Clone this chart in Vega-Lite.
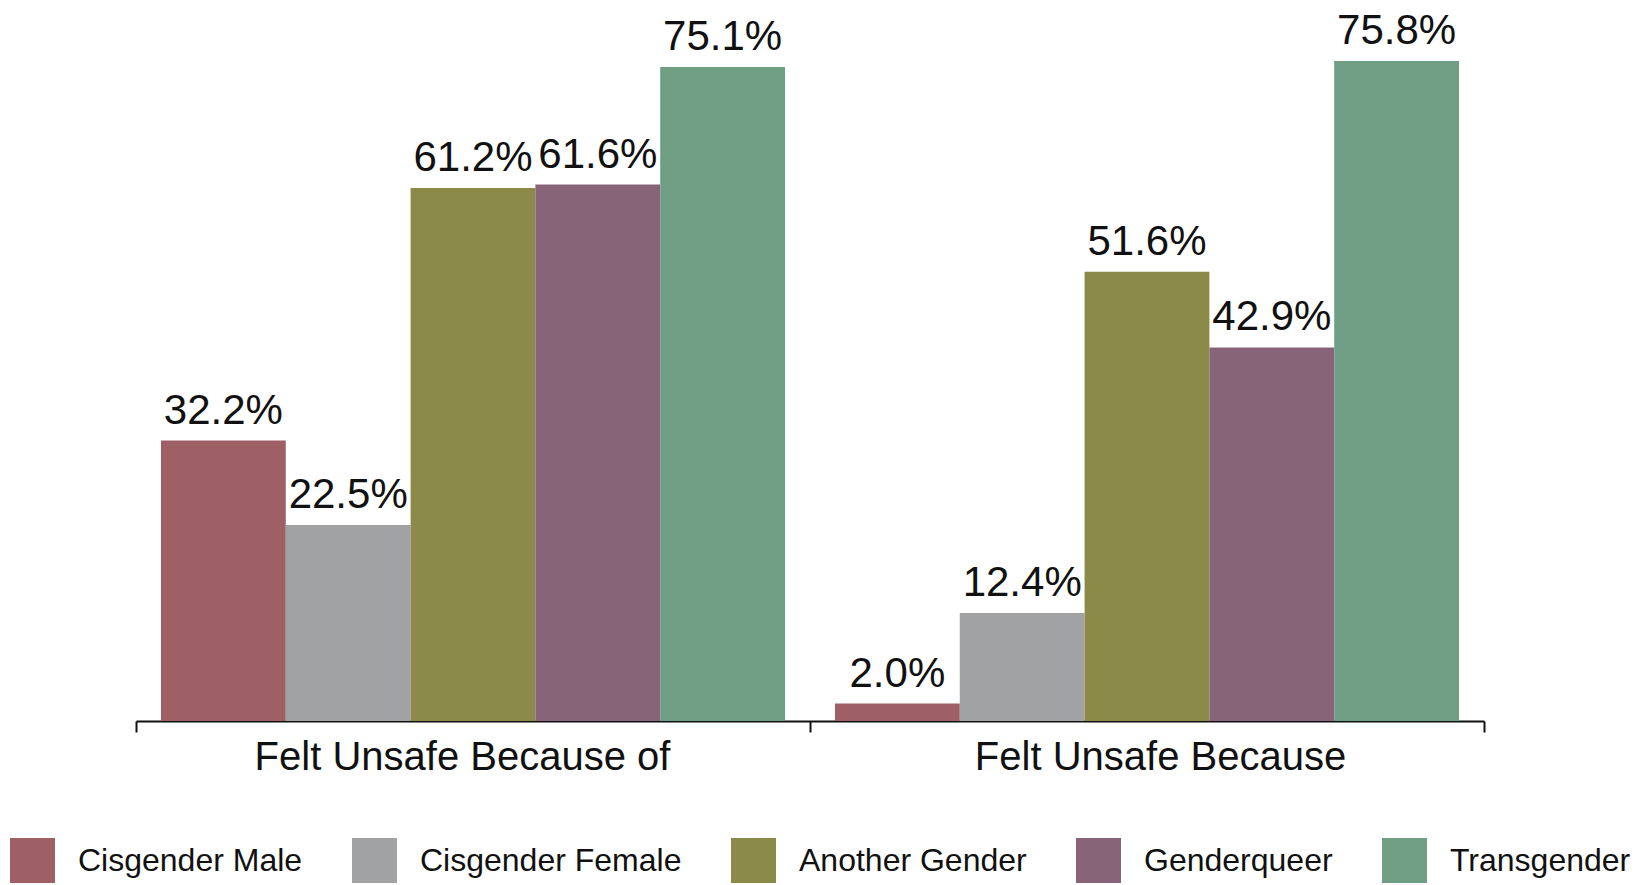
{
  "$schema": "https://vega.github.io/schema/vega-lite/v6.json",
  "width": 1348,
  "height": 721,
  "autosize": {"type": "none"},
  "padding": {"left": 136, "top": 0, "right": 153, "bottom": 164},
  "background": "white",
  "config": {"view": {"stroke": null}, "font": "Liberation Sans"},
  "data": {
    "values": [
      {"cat": "Felt Unsafe Because of", "gender": "Cisgender Male", "value": 0.322},
      {"cat": "Felt Unsafe Because of", "gender": "Cisgender Female", "value": 0.225},
      {"cat": "Felt Unsafe Because of", "gender": "Another Gender", "value": 0.612},
      {"cat": "Felt Unsafe Because of", "gender": "Genderqueer", "value": 0.616},
      {"cat": "Felt Unsafe Because of", "gender": "Transgender", "value": 0.751},
      {"cat": "Felt Unsafe Because", "gender": "Cisgender Male", "value": 0.020},
      {"cat": "Felt Unsafe Because", "gender": "Cisgender Female", "value": 0.124},
      {"cat": "Felt Unsafe Because", "gender": "Another Gender", "value": 0.516},
      {"cat": "Felt Unsafe Because", "gender": "Genderqueer", "value": 0.429},
      {"cat": "Felt Unsafe Because", "gender": "Transgender", "value": 0.758}
    ]
  },
  "encoding": {
    "x": {
      "field": "cat", "type": "nominal", "sort": null,
      "scale": {"paddingInner": 0, "paddingOuter": 0},
      "axis": {
        "title": null, "labelAngle": 0, "labelFont": "Liberation Sans", "labelFontSize": 40,
        "labelColor": "#111111", "domainColor": "#111111", "domainWidth": 2,
        "tickColor": "#111111", "tickWidth": 2, "tickSize": 11, "tickBand": "extent",
        "labelPadding": 5, "labelLimit": 700,
        "labelOffset": {"condition": {"test": "datum.value === 'Felt Unsafe Because of'", "value": -11}, "value": 13}
      }
    },
    "xOffset": {
      "field": "gender", "type": "nominal",
      "sort": ["Cisgender Male", "Cisgender Female", "Another Gender", "Genderqueer", "Transgender"],
      "scale": {"paddingInner": 0, "paddingOuter": 0.2}
    },
    "y": {"field": "value", "type": "quantitative", "scale": {"domain": [0, 0.828]}, "axis": null}
  },
  "layer": [
    {
      "mark": {"type": "bar"},
      "encoding": {
        "color": {
          "field": "gender", "type": "nominal",
          "scale": {
            "domain": ["Cisgender Male", "Cisgender Female", "Another Gender", "Genderqueer", "Transgender"],
            "range": ["#9E6064", "#A1A2A4", "#8B8A48", "#876478", "#6F9E85"]
          },
          "legend": {
            "title": null, "orient": "none", "legendX": -126, "legendY": 838,
            "direction": "horizontal", "symbolType": "square", "symbolSize": 2025,
            "symbolStrokeWidth": 0, "labelFont": "Liberation Sans", "labelFontSize": 32,
            "labelOffset": 23, "columnPadding": 49, "labelLimit": 400, "labelColor": "#111111"
          }
        }
      }
    },
    {
      "mark": {"type": "text", "baseline": "alphabetic", "dy": -17, "fontSize": 42, "font": "Liberation Sans", "color": "#111111"},
      "encoding": {"text": {"field": "value", "type": "quantitative", "format": ".1%"}}
    }
  ]
}
